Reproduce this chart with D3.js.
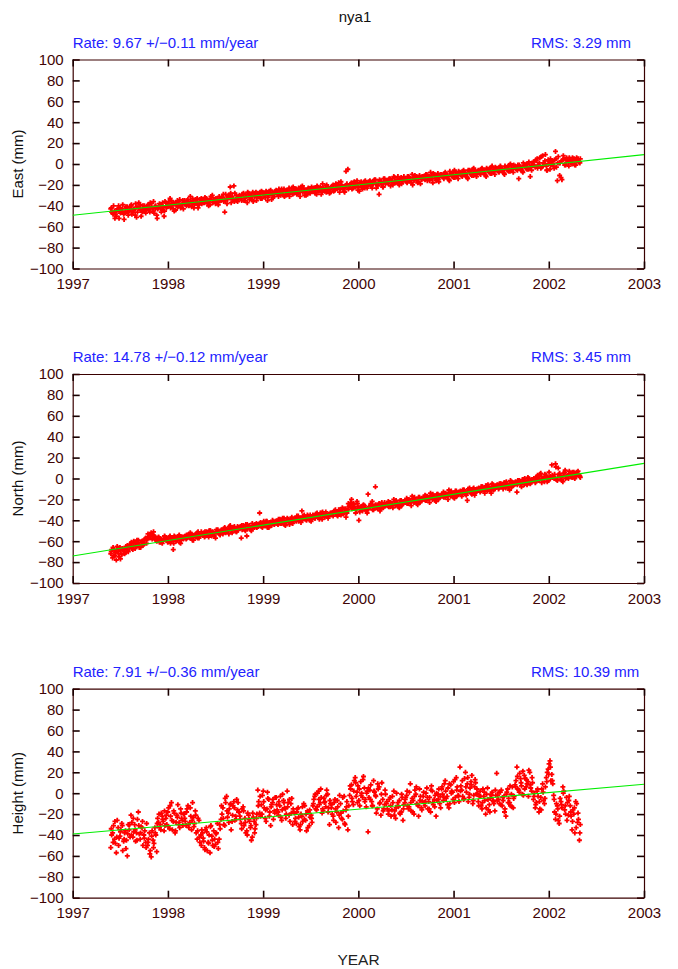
<!DOCTYPE html>
<html><head><meta charset="utf-8">
<script src="https://cdn.jsdelivr.net/npm/d3@7"></script>
<style>body{margin:0;background:#fff}svg{display:block;font-family:"Liberation Sans",Arial,Helvetica,sans-serif}</style>
</head><body><svg id="c" width="678" height="969"></svg>
<script>
// ---- data ----
const station = "nya1";
const yearTicks = [1997, 1998, 1999, 2000, 2001, 2002, 2003];
const valueTicks = [-100, -80, -60, -40, -20, 0, 20, 40, 60, 80, 100];
const componentNames = ["East (mm)", "North (mm)", "Height (mm)"];
const rateLabels = ["Rate: 9.67 +/\u22120.11 mm/year", "Rate: 14.78 +/\u22120.12 mm/year", "Rate: 7.91 +/\u22120.36 mm/year"];
const rmsLabels = ["RMS: 3.29 mm", "RMS: 3.45 mm", "RMS: 10.39 mm"];
const fitAt1997 = [-49, -74.2, -39];
const fitAt2003 = [9, 14.5, 8.5];
// three interleaved sample sets: A at sampleStart, B half a step later, C a quarter step later
const sampleStart = 1997.40, sampleStep = 0.0193;
const setOffsets = [0, 0.5, 0.25];
const eastA = [
-43,-47,-45,-50,-44,-42,-46,-48,-45,-41,
-44,-40,-46,-43,-51,-42,-39,-45,-43,-47,
-40,-43,-38,-45,-41,-49,-42,-39,-44,-50,
-37,-41,-39,-35,-43,-38,-40,-36,-42,-38,
-36,-39,-34,-38,-41,-35,-37,-33,-39,-36,
-34,-37,-33,-36,-39,-32,-35,-38,-34,-31,
-35,-32,-46,-33,-30,-22,-31,-21,-34,-36,
-30,-33,-29,-35,-31,-28,-32,-34,-30,-27,
-28,-31,-26,-29,-32,-27,-30,-25,-28,-31,
-25,-29,-27,-24,-30,-26,-28,-23,-27,-29,
-26,-24,-28,-31,-25,-23,-27,-29,-24,-26,
-26,-23,-29,-25,-22,-27,-24,-21,-25,-28,
-23,-20,-25,-22,-18,-24,-21,-26,-7,-5,
-21,-18,-23,-20,-16,-22,-19,-24,-17,-21,
-19,-16,-21,-18,-15,-20,-29,-17,-22,-14,
-16,-19,-14,-17,-12,-18,-15,-20,-13,-16,
-14,-17,-12,-15,-10,-16,-13,-18,-11,-14,
-12,-15,-10,-13,-8,-14,-11,-16,-9,-12,
-10,-13,-8,-11,-15,-9,-12,-6,-10,-14,
-8,-11,-6,-9,-13,-7,-10,-5,-8,-12,
-6,-9,-4,-7,-11,-5,-8,-3,-6,-10,
-4,-7,-2,-5,-9,-3,-6,-1,-4,-8,
-2,-5,-14,-3,-7,-1,-4,0,-3,-6,
2,-3,5,-1,-4,8,0,-2,4,-5,
3,-2,12,-16,1,-13,4,-1,6,2,
3,0,5,-1,4,2];
const eastB = [
-46,-40,-48,-43,-52,-45,-39,-47,-42,-49,
-41,-48,-44,-38,-46,-42,-50,-40,-45,-42,
-44,-37,-42,-47,-40,-43,-38,-46,-41,-36,
-40,-36,-42,-38,-45,-37,-41,-34,-39,-43,
-38,-35,-40,-36,-33,-39,-37,-42,-34,-38,
-36,-33,-38,-35,-31,-37,-34,-36,-39,-33,
-32,-36,-29,-34,-31,-37,-33,-28,-35,-31,
-33,-29,-35,-31,-27,-34,-30,-36,-28,-32,
-29,-33,-27,-30,-26,-32,-28,-34,-29,-26,
-28,-24,-30,-26,-31,-25,-29,-27,-23,-28,
-24,-28,-25,-22,-27,-30,-25,-23,-28,-26,
-24,-27,-22,-25,-29,-23,-26,-20,-24,-27,
-21,-25,-19,-23,-27,-20,-24,-22,-19,-23,
-19,-23,-17,-21,-25,-18,-22,-20,-16,-23,
-17,-21,-19,-15,-23,-18,-16,-20,-14,-19,
-18,-14,-16,-20,-13,-17,-19,-14,-16,-12,
-16,-12,-15,-18,-13,-11,-16,-14,-19,-12,
-14,-10,-13,-16,-11,-9,-14,-12,-17,-10,
-12,-9,-11,-14,-7,-10,-13,-8,-11,-9,
-10,-7,-9,-12,-6,-8,-11,-4,-9,-7,
-8,-5,-7,-10,-4,-6,-9,-2,-7,-5,
-6,-3,-5,-8,-2,-4,-7,0,-5,-3,
-4,-1,-3,-6,1,-2,-5,2,-3,-1,
-2,3,-1,6,-3,1,9,-6,2,-1,
0,4,-3,7,1,-15,5,-1,3,6,
1,4,-1,6,2,5];
const eastC = [
-42,-48,-52,-45,-40,-47,-43,-53,-41,-46,
-45,-39,-43,-49,-41,-37,-44,-46,-40,-44,
-39,-46,-41,-36,-43,-52,-40,-42,-37,-45,
-42,-38,-33,-40,-37,-44,-35,-39,-41,-35,
-35,-40,-37,-31,-38,-42,-34,-39,-36,-33,
-37,-32,-35,-40,-34,-30,-36,-33,-37,-35,
-34,-29,-35,-38,-32,-28,-34,-36,-30,-33,
-31,-35,-28,-32,-37,-29,-33,-27,-31,-35,
-31,-27,-33,-28,-30,-35,-26,-29,-32,-27,
-27,-31,-25,-28,-24,-30,-26,-31,-25,-22,
-25,-29,-23,-27,-21,-26,-30,-24,-27,-22,
-23,-28,-21,-26,-24,-19,-25,-27,-22,-24,
-22,-26,-20,-24,-21,-17,-23,-27,-20,-24,
-20,-24,-18,-22,-19,-26,-17,-21,-23,-19,
-20,-17,-23,-16,-19,-21,-15,-18,-22,-17,
-17,-15,-21,-14,-18,-16,-12,-17,-19,-15,
-15,-18,-13,-16,-20,-14,-12,-17,-13,-15,
-13,-11,-16,-12,-14,-18,-10,-13,-15,-11,
-11,-14,-9,-12,-16,-10,-8,-13,-11,-7,
-9,-12,-8,-10,-14,-6,-9,-11,-7,-10,
-7,-10,-5,-8,-12,-6,-4,-9,-7,-3,
-5,-8,-3,-6,-10,-4,-2,-7,-5,-1,
-3,-6,-1,-4,-8,-2,0,-5,-12,1,
-1,4,-4,1,7,-2,3,-6,0,5,
2,-4,5,1,-11,3,8,0,4,-2,
2,6,0,3,5,1];
const northA = [
-72,-76,-69,-78,-70,-66,-73,-68,-71,-64,
-66,-62,-68,-61,-64,-59,-65,-60,-63,-57,
-58,-55,-52,-54,-57,-60,-56,-59,-62,-58,
-58,-61,-56,-60,-68,-57,-59,-55,-62,-57,
-56,-58,-54,-57,-53,-59,-55,-52,-57,-54,
-53,-56,-51,-54,-50,-55,-52,-57,-51,-53,
-50,-53,-47,-51,-49,-45,-52,-48,-50,-46,
-47,-57,-45,-49,-55,-46,-48,-43,-47,-44,
-44,-33,-46,-42,-45,-41,-47,-43,-40,-44,
-41,-44,-39,-43,-40,-45,-38,-42,-39,-43,
-38,-41,-36,-40,-31,-37,-39,-35,-38,-41,
-35,-38,-34,-37,-33,-39,-35,-32,-36,-34,
-33,-36,-31,-35,-30,-34,-28,-32,-37,-30,
-26,-20,-24,-29,-22,-40,-27,-31,-26,-30,
-15,-28,-25,-30,-8,-27,-24,-29,-26,-23,
-25,-22,-27,-24,-20,-26,-23,-28,-21,-24,
-22,-19,-24,-21,-17,-23,-20,-25,-18,-21,
-19,-16,-21,-18,-14,-20,-17,-22,-15,-18,
-16,-13,-18,-15,-11,-17,-14,-19,-12,-15,
-13,-17,-11,-15,-21,-12,-14,-10,-16,-12,
-10,-13,-8,-11,-7,-12,-9,-14,-6,-10,
-7,-10,-5,-8,-4,-9,-6,-11,-3,-7,
-4,-13,-2,-5,-1,-6,-3,1,-4,-2,
-1,-4,2,-2,5,0,-3,3,-1,1,
13,2,14,-2,4,1,-3,6,2,0,
4,1,6,2,5,3];
const northB = [
-68,-74,-71,-65,-75,-69,-67,-72,-66,-70,
-63,-67,-60,-65,-62,-66,-61,-64,-58,-62,
-56,-53,-58,-55,-59,-57,-61,-58,-60,-56,
-59,-57,-62,-58,-55,-60,-57,-61,-56,-58,
-55,-57,-53,-56,-59,-54,-56,-51,-55,-53,
-52,-55,-53,-50,-54,-51,-53,-49,-52,-54,
-51,-48,-52,-49,-46,-50,-47,-49,-51,-47,
-46,-49,-47,-44,-48,-45,-50,-46,-44,-47,
-45,-42,-47,-44,-41,-46,-43,-45,-42,-41,
-43,-40,-42,-38,-44,-41,-39,-42,-37,-41,
-40,-37,-39,-42,-36,-38,-40,-37,-35,-39,
-37,-34,-36,-39,-33,-35,-37,-34,-36,-33,
-34,-31,-33,-36,-30,-32,-34,-29,-33,-27,
-23,-28,-25,-30,-27,-32,-28,-25,-29,-33,
-27,-24,-30,-26,-28,-25,-31,-23,-27,-25,
-26,-23,-25,-28,-22,-24,-27,-21,-25,-23,
-23,-20,-22,-26,-19,-21,-24,-18,-22,-20,
-20,-17,-19,-23,-16,-18,-21,-15,-19,-17,
-17,-14,-16,-20,-13,-15,-18,-12,-16,-14,
-14,-11,-13,-16,-10,-12,-15,-9,-13,-11,
-11,-8,-10,-14,-7,-9,-12,-5,-10,-8,
-8,-5,-7,-10,-4,-6,-9,-2,-7,-5,
-5,-2,-4,-8,-1,-3,-6,0,-4,-1,
-2,1,-1,4,-4,0,2,-3,6,1,
1,4,-1,10,2,-2,5,0,3,7,
2,5,0,6,3,1];
const northC = [
-70,-66,-74,-68,-72,-77,-67,-70,-65,-69,
-65,-61,-64,-67,-59,-63,-66,-60,-62,-59,
-53,-57,-54,-51,-56,-59,-57,-61,-59,-55,
-57,-60,-55,-59,-62,-56,-58,-54,-59,-56,
-57,-54,-56,-52,-58,-55,-53,-57,-54,-51,
-54,-51,-53,-56,-50,-52,-55,-51,-49,-52,
-49,-52,-48,-50,-53,-47,-49,-46,-51,-48,
-48,-45,-47,-50,-44,-46,-49,-45,-47,-43,
-46,-43,-45,-41,-44,-47,-42,-44,-41,-43,
-42,-39,-43,-41,-38,-42,-40,-44,-39,-40,
-39,-36,-41,-38,-40,-35,-38,-36,-40,-37,
-36,-38,-33,-35,-37,-32,-36,-34,-38,-35,
-35,-32,-30,-33,-31,-35,-29,-33,-30,-24,
-25,-29,-27,-33,-24,-28,-30,-26,-28,-31,
-29,-26,-22,-27,-25,-29,-26,-24,-28,-26,
-24,-27,-23,-26,-24,-21,-25,-23,-26,-22,
-21,-24,-20,-23,-21,-18,-22,-20,-23,-19,
-18,-21,-17,-20,-18,-15,-19,-17,-20,-16,
-15,-18,-14,-17,-15,-12,-16,-14,-17,-13,
-12,-15,-11,-14,-12,-9,-13,-11,-14,-10,
-9,-12,-8,-11,-9,-6,-10,-8,-11,-7,
-6,-9,-5,-8,-6,-3,-7,-5,-8,-4,
-3,-6,-2,-5,-3,0,-4,-2,-5,-1,
0,-3,3,-1,2,-2,4,1,-2,2,
3,0,11,1,5,-1,3,8,1,4,
3,6,1,4,7,2];
const heightA = [
-52,-38,-44,-57,-33,-41,-29,-46,-36,-60,
-35,-21,-42,-30,-38,-18,-44,-33,-40,-47,
-50,-38,-61,-45,-33,-56,-28,-30,-22,-36,
-24,-18,-34,-9,-27,-38,-21,-30,-15,-26,
-20,-31,-12,-28,-35,-23,-17,-44,-26,-40,
-38,-52,-33,-47,-57,-41,-36,-49,-29,-44,
-25,-14,-31,-3,-19,-11,-27,-8,-22,-16,
-18,-29,-13,-24,-36,-21,-33,-42,-27,-30,
3,-19,-11,2,-24,-15,-6,-31,-9,-17,
-4,-18,-12,-26,-7,-15,2,-21,-10,-30,
-19,-29,-14,-35,-22,-10,-26,-17,-31,-21,
-12,-3,-16,2,-9,-19,-5,-13,-1,-30,
-14,-22,-6,-18,-33,-10,-25,-3,-16,-35,
-2,8,-11,15,1,-7,11,-4,5,-13,
-37,3,-8,12,-2,-15,6,-21,-6,-11,
-10,-20,-4,-16,2,-24,-12,-7,-18,-26,
-9,-2,-15,9,-5,-20,-1,-11,4,-14,
-3,-12,5,-8,-18,2,-6,-22,-1,-10,
4,-7,12,-3,-14,8,1,-9,15,-2,
25,3,-6,20,9,-4,11,-10,6,-1,
-8,2,-15,-3,-20,5,-11,-1,-7,-17,
19,-6,1,-12,-3,-22,4,-9,-1,-14,
8,25,3,14,-1,17,6,11,20,2,
-6,-14,2,-18,-4,9,-10,15,23,31,
18,-2,-25,-12,-29,-8,6,-16,-4,-21,
-12,-35,-20,-8,-28,-45];
const heightB = [
-40,-31,-48,-26,-43,-35,-55,-38,-45,-30,
-42,-28,-37,-46,-25,-39,-32,-50,-36,-29,
-44,-55,-36,-48,-40,-24,-33,-19,-27,-31,
-30,-14,-22,-35,-19,-28,-11,-33,-24,-20,
-27,-15,-33,-22,-9,-29,-38,-24,-47,-35,
-46,-35,-55,-40,-31,-50,-44,-38,-53,-34,
-20,-30,-9,-23,-15,-35,-12,-26,-6,-18,
-25,-15,-31,-38,-19,-27,-45,-23,-34,-20,
-8,-22,-2,-14,-27,-5,-18,-11,-25,-4,
-16,-8,-23,-1,-14,-20,-9,-27,-5,-18,
-24,-15,-32,-20,-27,-12,-36,-18,-23,-28,
-6,-15,0,-11,-4,-17,-8,3,-14,-10,
-20,-9,-28,-13,-2,-24,-17,-30,-8,-12,
4,-8,12,-3,7,-12,0,16,-6,2,
-4,8,-12,1,-19,4,-9,10,-15,-1,
-15,-6,-22,-9,-17,0,-13,-20,-4,-11,
-4,-12,1,-17,-7,3,-10,-22,-3,-8,
-9,0,-15,-4,7,-11,-2,-7,4,-14,
-1,9,-5,5,-10,2,11,-4,6,-8,
7,-3,14,1,-8,5,17,-2,10,0,
-3,-12,4,-7,-1,-16,-5,1,-10,-2,
-2,-10,3,-7,-15,1,-5,-12,6,-3,
12,4,19,7,-2,14,9,22,5,10,
0,-9,-3,-15,4,-7,6,20,28,12,
9,-18,-10,-26,-5,-14,2,-20,-9,-3,
-22,-16,-38,-10,-25,-30];
const heightC = [
-34,-47,-27,-42,-50,-37,-31,-44,-53,-39,
-30,-40,-24,-35,-45,-31,-38,-27,-43,-52,
-47,-58,-41,-52,-38,-29,-20,-35,-25,-17,
-21,-32,-12,-26,-17,-36,-23,-28,-19,-31,
-24,-18,-30,-14,-26,-32,-21,-36,-42,-50,
-43,-54,-37,-48,-32,-45,-51,-39,-47,-30,
-12,-24,-5,-17,-28,-10,-21,-14,-25,-9,
-22,-34,-17,-28,-40,-25,-31,-19,-38,-24,
-12,-3,-20,-8,-16,1,-22,-13,-6,-19,
-11,-21,-3,-16,-9,-24,-13,-6,-19,-15,
-27,-18,-23,-30,-13,-25,-20,-33,-16,-24,
-10,-1,-13,-6,4,-15,-9,-2,-18,-7,
-11,-26,-15,-7,-21,-19,-4,-29,-13,-22,
7,-5,2,10,-9,4,-2,13,-8,0,
5,-6,-12,2,-3,9,-10,-1,-17,3,
-8,-17,-12,-3,-21,-14,-9,-19,-1,-15,
-6,2,-13,-9,-18,-3,6,-12,-7,-16,
1,-8,-4,-15,3,-9,-13,0,-6,-3,
6,-4,2,-11,9,0,-6,13,3,-3,
2,12,-5,6,15,-1,8,-7,13,4,
-12,-3,-9,1,-14,-6,-18,-2,-8,3,
-7,1,-11,-4,-18,-1,-9,7,-13,-5,
6,16,1,10,21,4,13,-3,8,15,
-3,-11,4,-8,-16,1,-5,11,18,25,
12,-6,-20,-15,-22,-11,0,-12,-26,-7,
-18,-27,-14,-33,-19,-38];
const series = [[eastA, eastB, eastC], [northA, northB, northC], [heightA, heightB, heightC]];

// ---- drawing ----
const svg = d3.select("#c");
const axisColor = "#3a0000", labelColor = "#3f0505";
const left = 72.7, right = 644, panelH = 209;
const panelTops = [59.5, 374, 688.7];
const x = d3.scaleLinear().domain([1997, 2003]).range([left, right]);
const fmt = d => (d < 0 ? "\u2212" + Math.abs(d) : String(d));

svg.append("text").attr("x", 355).attr("y", 21.5).attr("text-anchor", "middle")
  .attr("font-size", 15).attr("fill", "#111").text(station);
svg.append("text").attr("x", 358.5).attr("y", 965).attr("text-anchor", "middle")
  .attr("font-size", 15.5).attr("fill", "#222").text("YEAR");

series.forEach((sets, k) => {
  const top = panelTops[k];
  const y = d3.scaleLinear().domain([-100, 100]).range([top + panelH, top]);
  const g = svg.append("g");

  const styleAxis = sel => {
    sel.select(".domain").attr("stroke", axisColor).attr("stroke-width", 1.2);
    sel.selectAll(".tick line").attr("stroke", "#1a0000").attr("stroke-width", 1.6);
    sel.selectAll(".tick text").attr("fill", labelColor).attr("font-size", 15)
      .attr("font-family", '"Liberation Sans",Arial,sans-serif');
  };
  g.append("g").attr("transform", `translate(${left},0)`)
    .call(d3.axisLeft(y).tickValues(valueTicks).tickSize(-7).tickSizeOuter(0).tickPadding(9).tickFormat(fmt))
    .call(styleAxis);
  g.append("g").attr("transform", `translate(${right},0)`)
    .call(d3.axisRight(y).tickValues(valueTicks).tickSize(-7).tickSizeOuter(0).tickFormat(""))
    .call(styleAxis);
  g.append("g").attr("transform", `translate(0,${top + panelH})`)
    .call(d3.axisBottom(x).tickValues(yearTicks).tickSize(-7).tickSizeOuter(0).tickPadding(10).tickFormat(d3.format("d")))
    .call(styleAxis);
  g.append("g").attr("transform", `translate(0,${top})`)
    .call(d3.axisTop(x).tickValues(yearTicks).tickSize(-7).tickSizeOuter(0).tickFormat(""))
    .call(styleAxis);

  // points
  const pts = [];
  sets.forEach((vals, s) => vals.forEach((v, i) =>
    pts.push({ t: sampleStart + (i + setOffsets[s]) * sampleStep, v })));
  const r = 2.5;
  g.append("g").selectAll("path").data(pts).join("path")
    .attr("d", d => `M${x(d.t) - r},${y(d.v)}H${x(d.t) + r}M${x(d.t)},${y(d.v) - r}V${y(d.v) + r}`)
    .attr("stroke", "#ff0000").attr("stroke-width", 1.8).attr("fill", "none");

  // fit line
  g.append("line")
    .attr("x1", x(1997)).attr("y1", y(fitAt1997[k]))
    .attr("x2", x(2003)).attr("y2", y(fitAt2003[k]))
    .attr("stroke", "#00ee00").attr("stroke-width", 1.1);

  // annotations
  g.append("text").attr("x", left).attr("y", top - 12).attr("font-size", 15)
    .attr("fill", "#2323ff").text(rateLabels[k]);
  g.append("text").attr("x", 531).attr("y", top - 12).attr("font-size", 15)
    .attr("fill", "#2323ff").text(rmsLabels[k]);
  g.append("text").attr("transform", `translate(23,${top + panelH / 2}) rotate(-90)`)
    .attr("text-anchor", "middle").attr("font-size", 15).attr("fill", "#111")
    .text(componentNames[k]);
});
</script></body></html>
